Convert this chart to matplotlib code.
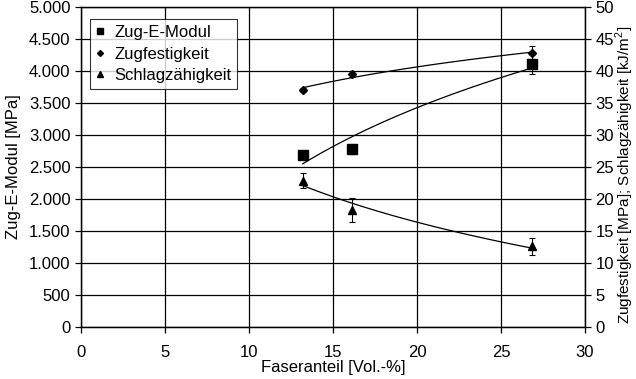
import numpy as np
import matplotlib
matplotlib.use("Agg")
import matplotlib.pyplot as plt
from matplotlib.ticker import FuncFormatter, MultipleLocator

plt.rcParams["font.family"] = ["Liberation Sans", "DejaVu Sans"]
plt.rcParams["mathtext.fontset"] = "custom"
plt.rcParams["mathtext.rm"] = "Liberation Sans"

# Messwerte
faseranteil = [13.2, 16.15, 26.87]
e_modul = [2690, 2780, 4105]
e_modul_err = [50, 75, 150]
zugfestigkeit = [37.0, 39.5, 42.8]
zugfestigkeit_err = [0.3, 0.5, 1.1]
schlagzaehigkeit = [22.85, 18.3, 12.6]
schlagzaehigkeit_err = [1.2, 1.9, 1.3]


def log_trend(x, y):
    # logarithmische Trendlinie y = a + b*ln(x)
    b, a = np.polyfit(np.log(x), y, 1)
    xs = np.linspace(min(x), max(x), 100)
    return xs, a + b * np.log(xs)


def thousands(v, pos):
    return f"{int(v):,}".replace(",", ".")


fig = plt.figure(figsize=(6.36, 3.79), dpi=100)
ax = fig.add_axes([81 / 636, 1 - 327 / 379, 504 / 636, 320 / 379])
ax2 = ax.twinx()

ax.set_xlim(0, 30)
ax.set_ylim(0, 5000)
ax2.set_ylim(0, 50)
ax.xaxis.set_major_locator(MultipleLocator(5))
ax.yaxis.set_major_locator(MultipleLocator(500))
ax2.yaxis.set_major_locator(MultipleLocator(5))
ax.yaxis.set_major_formatter(FuncFormatter(thousands))
ax.grid(True, color="black", linewidth=0.9)

for a in (ax, ax2):
    for s in a.spines.values():
        s.set_linewidth(0.9)
    a.tick_params(labelsize=12, length=4, width=0.9, direction="out")
ax.tick_params(axis="x", pad=9)

err_kw = dict(elinewidth=0.8, capsize=2.5, capthick=0.8, ecolor="black")

xs, ys = log_trend(faseranteil, e_modul)
ax.plot(xs, ys, color="black", linewidth=0.9)
ax.errorbar(faseranteil, e_modul, yerr=e_modul_err, fmt="s", color="black",
            markersize=7, **err_kw)

xs, ys = log_trend(faseranteil, zugfestigkeit)
ax2.plot(xs, ys, color="black", linewidth=0.9)
ax2.errorbar(faseranteil, zugfestigkeit, yerr=zugfestigkeit_err, fmt="D", color="black",
             markersize=4, **err_kw)

xs, ys = log_trend(faseranteil, schlagzaehigkeit)
ax2.plot(xs, ys, color="black", linewidth=0.9)
ax2.errorbar(faseranteil, schlagzaehigkeit, yerr=schlagzaehigkeit_err, fmt="^", color="black",
             markersize=6, **err_kw)

ax.set_xlabel("Faseranteil [Vol.-%]", fontsize=12, labelpad=0)
ax.set_ylabel("Zug-E-Modul [MPa]", fontsize=12)
ax.yaxis.set_label_coords(-60 / 504, 0.5)
ax2.set_ylabel("Zugfestigkeit [MPa]; Schlagzähigkeit [kJ/m$^2$]", fontsize=11)
ax2.yaxis.set_label_coords(1 + 29 / 504, 0.5 - 8 / 320)

handles = [
    plt.Line2D([], [], marker="s", linestyle="none", color="black", markersize=5),
    plt.Line2D([], [], marker="D", linestyle="none", color="black", markersize=3),
    plt.Line2D([], [], marker="^", linestyle="none", color="black", markersize=5),
]
leg = ax2.legend(handles, ["Zug-E-Modul", "Zugfestigkeit", "Schlagzähigkeit"],
                 loc="upper left", bbox_to_anchor=(9 / 504, 1 - 12 / 320),
                 fontsize=12, frameon=True, fancybox=False, edgecolor="black",
                 handlelength=0.5, handletextpad=0.6, borderpad=0.35, labelspacing=0.4,
                 borderaxespad=0)
leg.get_frame().set_linewidth(0.8)

fig.savefig("out.png", dpi=100)
